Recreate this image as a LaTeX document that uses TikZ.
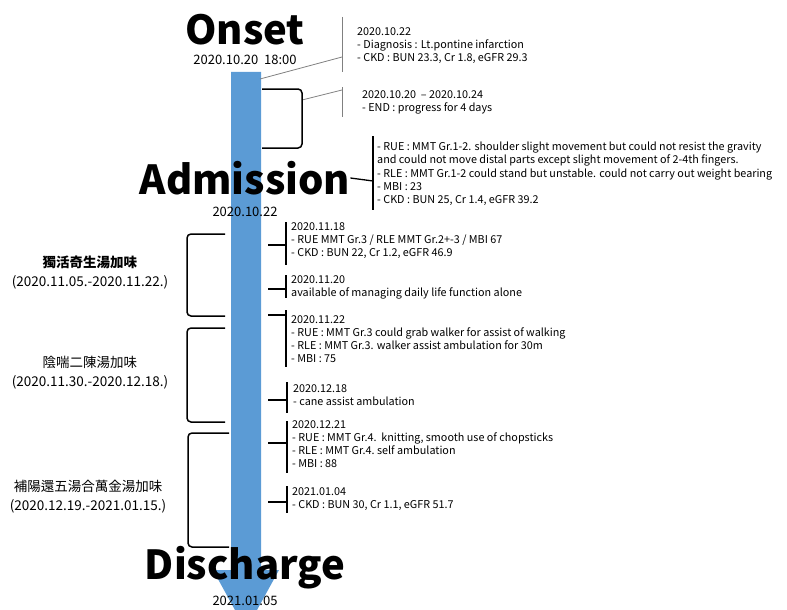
\documentclass[tikz,border=0pt]{standalone}
\usepackage{fontspec}
\setmainfont{Noto Sans CJK KR}
\usetikzlibrary{positioning}
\definecolor{timeblue}{RGB}{91,155,213}
\tikzset{
  note/.style={anchor=north west, align=left, inner sep=0pt, font=\fontsize{10.8}{13.2}\selectfont},
  title/.style={inner sep=0pt, font=\fontsize{40}{40}\selectfont\bfseries},
  stamp/.style={inner sep=0pt, font=\fontsize{13}{14}\selectfont},
  herb/.style={align=center, inner sep=0pt, font=\fontsize{13.5}{19}\selectfont},
  bar/.style={line width=1.3pt},
  thin/.style={draw=gray, line width=0.8pt},
  brace/.style={line width=1.5pt, rounded corners=4pt}
}
\begin{document}
\begin{tikzpicture}[x=1pt,y=-1pt]
    \useasboundingbox (0,0) rectangle (787,610);
    \clip (0,0) rectangle (787,610);
  %arrow
    \fill[timeblue] (231,72) -- (261,72) -- (261,570) -- (279,570) -- (246,630) -- (213,570) -- (231,570) -- cycle;
  %titles
    \node[title] (onset) at (245,30) {Onset};
        \node[stamp] (onsetdate) at (245,60) {2020.10.20\ \ 18:00};
    \node[title] (admission) at (245,178) {Admission};
        \node[stamp] (admitdate) at (245,212) {2020.10.22};
    \node[title] (discharge) at (245,568) {Discharge};
        \node[stamp] (dischdate) at (245,601) {2021.01.05};
  %notes before admission
    \node[note] (diag) at (357,27) {2020.10.22\\- Diagnosis : Lt.pontine infarction\\- CKD : BUN 23.3, Cr 1.8, eGFR 29.3};
        \draw[thin] (342,17) -- (342,72);
        \draw[thin] (260,79) -- (342,57);
    \node[note] (endnote) at (362,90) {2020.10.20\ \ -- 2020.10.24\\- END : progress for 4 days};
        \draw[thin] (342,87) -- (342,117);
        \draw[thin] (302,100) -- (342,90);
        \draw[brace] (262,89) -- (302,89) -- (302,148) -- (262,148);
  %admission note
    \node[note] (admitnote) at (377,142) {- RUE : MMT Gr.1-2. shoulder slight movement but could not resist the gravity\\and could not move distal parts except slight movement of 2-4th fingers.\\- RLE : MMT Gr.1-2 could stand but unstable. could not carry out weight bearing\\- MBI : 23\\- CKD : BUN 25, Cr 1.4, eGFR 39.2};
        \draw[bar] (373,136) -- (373,210);
        \draw[bar] (admission.east) -- (373,181);
  %progress notes
    \node[note] (n1118) at (291,222) {2020.11.18\\- RUE MMT Gr.3 / RLE MMT Gr.2+-3 / MBI 67\\- CKD : BUN 22, Cr 1.2, eGFR 46.9};
        \draw[bar] (286,222) -- (286,265);
        \draw[bar] (268,245) -- (286,245);
    \node[note] (n1120) at (291,275) {2020.11.20\\available of managing daily life function alone};
        \draw[bar] (286,275) -- (286,298);
        \draw[bar] (268,289) -- (286,289);
    \node[note] (n1122) at (291,315) {2020.11.22\\- RUE : MMT Gr.3 could grab walker for assist of walking\\- RLE : MMT Gr.3. walker assist ambulation for 30m\\- MBI : 75};
        \draw[bar] (286,310) -- (286,367);
        \draw[bar] (268,315) -- (286,315);
    \node[note] (n1218) at (293,384) {2020.12.18\\- cane assist ambulation};
        \draw[bar] (287,382) -- (287,413);
        \draw[bar] (268,400) -- (287,400);
    \node[note] (n1221) at (292,420) {2020.12.21\\- RUE : MMT Gr.4.\ \ knitting, smooth use of chopsticks\\- RLE : MMT Gr.4.\ self ambulation\\- MBI : 88};
        \draw[bar] (287,421) -- (287,473);
        \draw[bar] (268,443) -- (287,443);
    \node[note] (n0104) at (292,487) {2021.01.04\\- CKD : BUN 30, Cr 1.1, eGFR 51.7};
        \draw[bar] (287,486) -- (287,513);
        \draw[bar] (268,502) -- (287,502);
  %prescriptions
    \draw[brace] (225,234) -- (187,234) -- (187,316) -- (225,316);
    \node[herb] (herb1) at (90,272.5) {\bfseries 獨活奇生湯加味\\(2020.11.05.-2020.11.22.)};
    \draw[brace] (225,328) -- (187,328) -- (187,422) -- (225,422);
    \node[herb] (herb2) at (90,372.5) {陰喘二陳湯加味\\(2020.11.30.-2020.12.18.)};
    \draw[brace] (229,433) -- (188,433) -- (188,547) -- (229,547);
    \node[herb] (herb3) at (88,497) {補陽還五湯合萬金湯加味\\(2020.12.19.-2021.01.15.)};
\end{tikzpicture}
\end{document}
